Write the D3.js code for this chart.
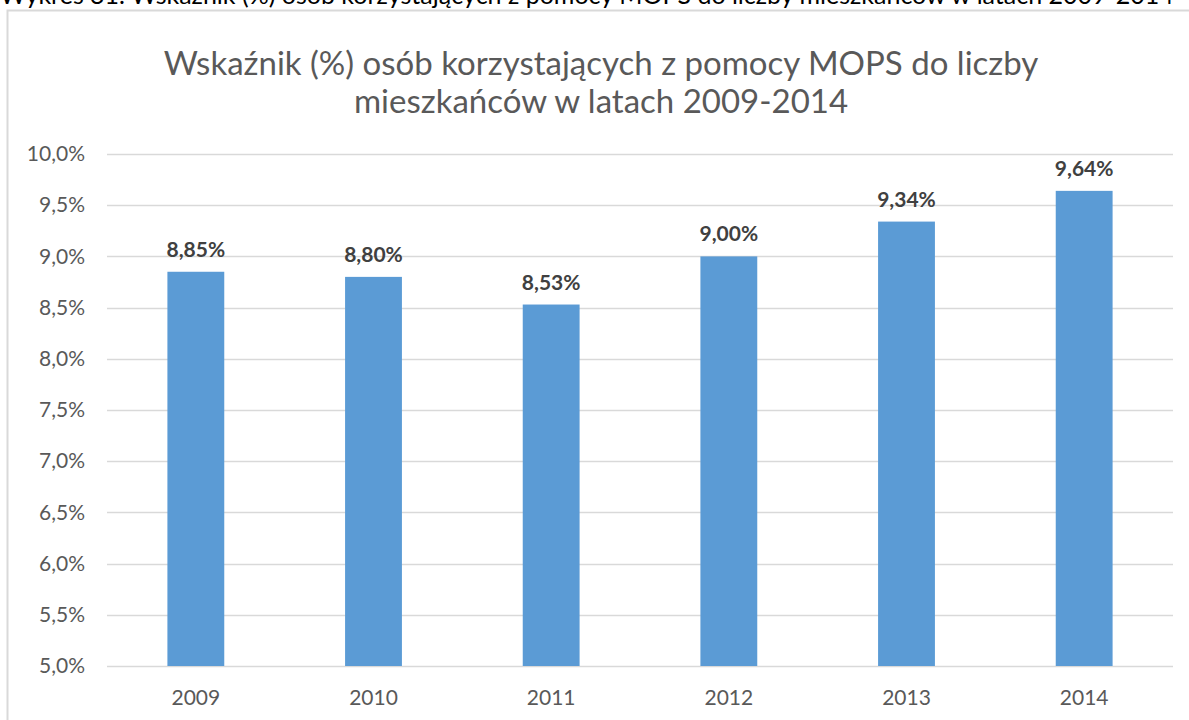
<!DOCTYPE html>
<html>
<head>
<meta charset="utf-8">
<script src="https://cdn.jsdelivr.net/npm/d3@7"></script>
<style>
  body { margin: 0; background: #fff; }
  svg { display: block; font-family: Lato, "Open Sans", sans-serif; }
</style>
</head>
<body>
<svg id="chart" width="1189" height="720"></svg>
<script>
const years = ["2009", "2010", "2011", "2012", "2013", "2014"];
const values = [8.85, 8.80, 8.53, 9.00, 9.34, 9.64];
const yTicks = [5.0, 5.5, 6.0, 6.5, 7.0, 7.5, 8.0, 8.5, 9.0, 9.5, 10.0];
const caption = "Wykres 31. Wskaźnik (%) osób korzystających z pomocy MOPS do liczby mieszkańców w latach 2009-2014";
const titleLines = ["Wskaźnik (%) osób korzystających z pomocy MOPS do liczby", "mieszkańców w latach 2009-2014"];

const svg = d3.select("#chart");
const margin = { left: 107, right: 1173, top: 154, bottom: 666 };

// caption above the frame (cut off at the top like the source)
svg.append("text")
    .attr("x", 0).attr("y", 4)
    .attr("font-size", 25)
    .attr("fill", "#000")
    .text(caption);

// chart frame
svg.append("rect")
    .attr("x", 7.5).attr("y", 10.5)
    .attr("width", 1200).attr("height", 800)
    .attr("fill", "#fff")
    .attr("stroke", "#d9d9d9")
    .attr("stroke-width", 2);

// title
svg.append("g").selectAll("text")
    .data(titleLines)
    .enter()
    .append("text")
    .attr("x", 601)
    .attr("y", (d, i) => 75 + i * 38)
    .attr("text-anchor", "middle")
    .attr("font-size", 33)
    .attr("fill", "#595959")
    .text(d => d);

const x = d3.scaleBand()
    .domain(years)
    .range([margin.left, margin.right])
    .paddingInner(0.68)
    .paddingOuter(0.34);

const y = d3.scaleLinear()
    .domain([5, 10])
    .range([margin.bottom, margin.top]);

const fmt = v => v.toFixed(1).replace(".", ",") + "%";

// gridlines
svg.append("g")
    .selectAll("line")
    .data(yTicks)
    .enter()
    .append("line")
    .attr("x1", margin.left).attr("x2", margin.right)
    .attr("y1", d => Math.round(y(d)) + 0.5)
    .attr("y2", d => Math.round(y(d)) + 0.5)
    .attr("stroke", "#d9d9d9")
    .attr("stroke-width", 1.3);

// y axis labels
const yAxis = svg.append("g")
    .attr("transform", `translate(${margin.left - 22},0)`)
    .call(d3.axisLeft(y).tickValues(yTicks).tickFormat(fmt).tickSize(0).tickPadding(0));
yAxis.select(".domain").remove();
yAxis.selectAll("text")
    .attr("font-size", 21)
    .attr("font-family", "Lato, 'Open Sans', sans-serif")
    .attr("fill", "#595959");

// x axis labels
const xAxis = svg.append("g")
    .attr("transform", `translate(0,${margin.bottom})`)
    .call(d3.axisBottom(x).tickSize(0).tickPadding(24));
xAxis.select(".domain").remove();
xAxis.selectAll("text")
    .attr("font-size", 21)
    .attr("font-family", "Lato, 'Open Sans', sans-serif")
    .attr("fill", "#595959");

// bars
svg.append("g")
    .selectAll("rect")
    .data(values)
    .enter()
    .append("rect")
    .attr("x", (d, i) => x(years[i]))
    .attr("y", d => y(d))
    .attr("width", x.bandwidth())
    .attr("height", d => y(5) - y(d))
    .attr("fill", "#5b9bd5");

// value labels
svg.append("g")
    .selectAll("text")
    .data(values)
    .enter()
    .append("text")
    .attr("x", (d, i) => x(years[i]) + x.bandwidth() / 2)
    .attr("y", d => y(d) - 15)
    .attr("text-anchor", "middle")
    .attr("font-size", 21)
    .attr("font-weight", "bold")
    .attr("fill", "#404040")
    .text(d => d.toFixed(2).replace(".", ",") + "%");
</script>
</body>
</html>
